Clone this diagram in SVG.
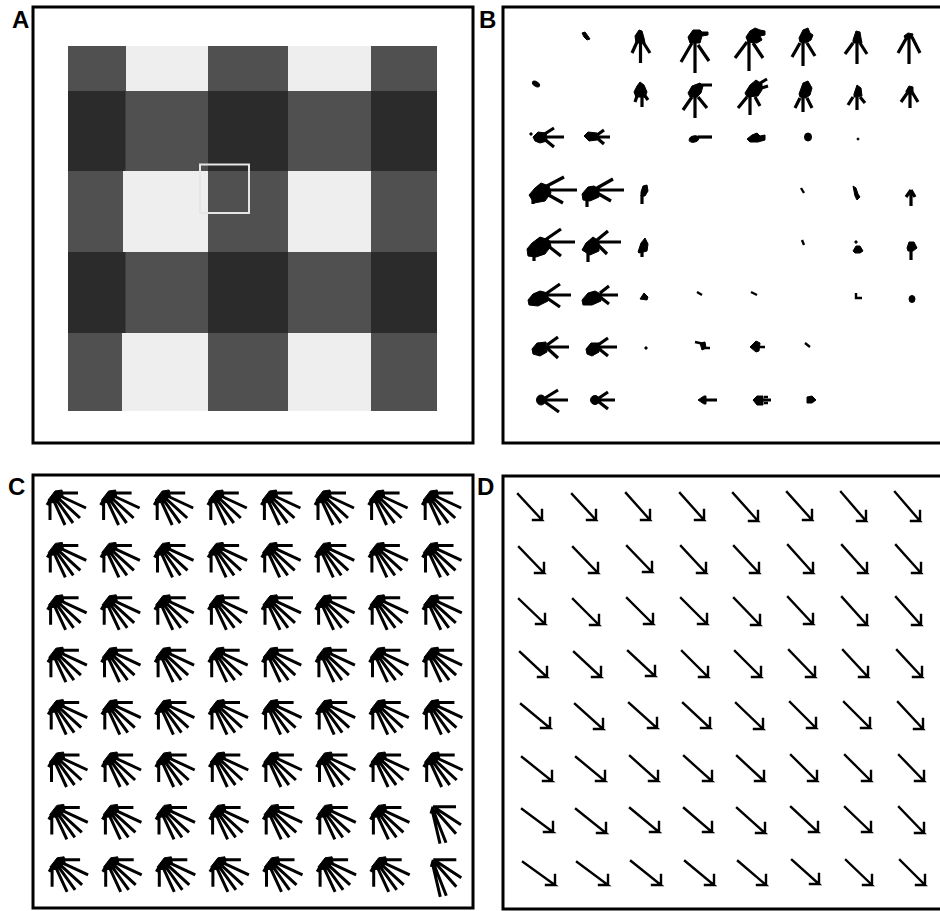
<svg xmlns="http://www.w3.org/2000/svg" xmlns:xlink="http://www.w3.org/1999/xlink" width="940" height="911" viewBox="0 0 940 911">
<style>
.frame{fill:none;stroke:#000;stroke-width:3}
.lbl{font-family:"Liberation Sans",Arial,sans-serif;font-weight:bold;font-size:24px;fill:#000}
.s{fill:none;stroke:#000;stroke-width:3.2;stroke-linecap:butt}
.t{fill:none;stroke:#000;stroke-width:2.4}
.a{fill:none;stroke:#000;stroke-width:2.4;stroke-linecap:square}
.c{fill:none;stroke:#000;stroke-width:3}
.b{fill:#000;stroke:#000;stroke-width:1}
</style>
<defs>
<g id="fan">
<path class="c" d="M6,2 H26 M6,4 L34,17 M5,6 L28,27 M3,7 L21,32 M1,8 L13,34 M-2,9 V29 M-2,9 L-5,14"/>
<polygon class="b" points="-4,9 3,0 10,-1 11,5 5,11 -2,12"/>
</g>
<g id="fan2">
<path class="c" d="M0,0 H23 M2,1 L28,18 M1,2 L23,27 M0,3 L13,36 M-1,3 L7,37 M0,0 L-2,7"/>
</g>
</defs>
<rect x="0" y="0" width="940" height="911" fill="#fff"/>

<g id="panelA">
<rect class="frame" x="33" y="7" width="440" height="436"/>
<rect x="68" y="46" width="369" height="365" fill="#505050"/>
<g fill="#2b2b2b">
<rect x="68" y="91" width="57.5" height="80"/>
<rect x="208" y="91" width="80" height="80"/>
<rect x="371" y="91" width="66" height="80"/>
<rect x="68" y="252" width="57.5" height="81"/>
<rect x="208" y="252" width="80" height="81"/>
<rect x="371" y="252" width="66" height="81"/>
</g>
<g fill="#eeeeee">
<rect x="126" y="46" width="82" height="45"/>
<rect x="288" y="46" width="83" height="45"/>
<rect x="123" y="171" width="85" height="81"/>
<rect x="288" y="171" width="83" height="81"/>
<rect x="122" y="333" width="86" height="78"/>
<rect x="288" y="333" width="83" height="78"/>
</g>
<rect x="200" y="164.5" width="49" height="48.5" fill="none" stroke="#e6e6e6" stroke-width="2"/>
<text class="lbl" x="12" y="28">A</text>
</g>

<g id="panelB">
<rect class="frame" x="503" y="7" width="445" height="436"/>
<text class="lbl" x="479" y="28">B</text>
<g id="B-row0">
<polygon class="b" points="582,33 585,32 588,36 590,39 587,40 584,37"/>
<path class="s" d="M640.5,43 V63 M637,42 L632,53 M643,42 L650,53"/>
<polygon class="b" points="635,36 639,30 642,31 644,38 645,43 636,43"/>
<path class="s" d="M695,40 V73 M692,43 L681,62 M698,45 L709,61"/>
<polygon class="b" points="688,37 693,30 700,30 702,32 708,32 708,35 702,36 700,43 690,43"/>
<path class="s" d="M749,40 V71 M747,42 L735,58 M753,43 L763,58"/>
<polygon class="b" points="746,37 750,31 755,28 760,30 765,31 765,35 760,36 762,40 757,43 748,42"/>
<path class="s" d="M803,42 V66 M800,43 L792,57 M807,43 L815,56"/>
<polygon class="b" points="799,38 803,30 808,28 810,33 813,35 811,40 806,43 800,42"/>
<path class="s" d="M857,43 V64 M853,43 L845,54 M860,43 L867,54"/>
<polygon class="b" points="853,40 856,31 860,32 861,38 862,43 853,43"/>
<path class="s" d="M909,35 V64 M907,37 L898,53 M912,37 L920,53"/>
<polygon class="b" points="904,36 908,33 913,34 912,38 905,38"/>
</g>
<g id="B-row1">
<ellipse class="b" cx="536" cy="84" rx="4" ry="2.2" transform="rotate(35 536 84)"/>
<path class="s" d="M642,95 V107 M638,93 L635,102 M643,93 L648,100"/>
<polygon class="b" points="634,92 637,86 640,82 644,85 647,92 645,97 636,97"/>
<path class="s" d="M695,95 V118 M692,97 L683,110 M698,97 L707,108 M700,85 H712"/>
<polygon class="b" points="688,93 692,86 700,83 703,86 701,93 697,97 690,97"/>
<path class="s" d="M750,95 V115 M747,97 L738,108 M755,97 L760,106 M757,85 L767,79 M758,89 L768,86"/>
<polygon class="b" points="745,93 750,85 756,80 762,84 762,90 758,96 747,97"/>
<path class="s" d="M803,97 V112 M800,98 L795,108 M807,98 L812,108"/>
<polygon class="b" points="799,94 803,83 808,81 812,88 810,95 806,98 800,97"/>
<path class="s" d="M857,97 V110 M853,97 L848,105 M860,97 L865,103"/>
<polygon class="b" points="854,94 857,85 861,88 862,96 854,97"/>
<path class="s" d="M910,90 V108 M908,92 L901,102 M912,92 L918,102"/>
<polygon class="b" points="906,91 909,86 913,87 913,92 906,92"/>
</g>
<g id="B-row2">
<path class="s" d="M543,137 H564 M543,135 L554,128 M543,138 L554,147"/>
<polygon class="b" points="533,137 538,132 546,133 547,141 540,143 535,141"/>
<circle class="b" cx="531" cy="134" r="1.2"/>
<path class="s" d="M595,137 H610 M597,135 L604,130 M597,138 L604,144"/>
<polygon class="b" points="584,136 588,132 597,133 597,140 589,141"/>
<path class="s" d="M698,137 H712"/>
<ellipse class="b" cx="694" cy="139" rx="5" ry="3" transform="rotate(-15 694 139)"/>
<polygon class="b" points="747,139 752,135 757,133 760,136 765,135 765,140 758,142 750,142"/>
<ellipse class="b" cx="808" cy="137" rx="3.5" ry="4"/>
<circle class="b" cx="858" cy="139" r="1"/>
</g>
<g id="B-row3">
<path class="s" d="M543,190 H577 M545,187 L564,177 M545,193 L563,203 M533,193 V204"/>
<polygon class="b" points="529,195 535,188 541,183 549,186 551,193 545,201 534,203"/>
<path class="s" d="M595,190 H624 M597,188 L613,179 M597,193 L611,201 M587,195 V207"/>
<polygon class="b" points="582,194 588,187 594,186 599,189 599,197 590,201 583,200"/>
<path class="s" d="M642,195 V204"/>
<polygon class="b" points="641,192 643,186 647,185 648,191 645,196 641,196"/>
<path class="t" d="M801,188 L804,193"/>
<polygon class="b" points="853,186 856,188 858,194 860,197 857,200 855,196"/>
<path class="s" d="M911,192 V206 M911,190 L906,197 M911,190 L915,197"/>
</g>
<g id="B-row4">
<path class="s" d="M545,242 H575 M545,240 L561,229 M547,245 L561,256 M534,248 V261"/>
<polygon class="b" points="527,249 532,243 540,237 549,240 551,246 545,254 536,257 528,256"/>
<path class="s" d="M597,242 H621 M597,240 L608,231 M598,245 L607,254 M588,247 V262"/>
<polygon class="b" points="582,250 586,243 593,237 599,241 599,251 590,255"/>
<path class="s" d="M642,250 V257"/>
<polygon class="b" points="638,252 641,243 645,238 648,244 647,251 639,253"/>
<path class="t" d="M802,240 L804,245"/>
<polygon class="b" points="853,251 856,246 860,246 863,251 860,253 855,253"/>
<circle class="b" cx="856" cy="242" r="1.2"/>
<path class="s" d="M911,250 V260"/>
<polygon class="b" points="907,248 909,242 914,242 917,248 913,251 908,251"/>
</g>
<g id="B-row5">
<path class="s" d="M545,295 H571 M547,293 L560,284 M547,298 L560,307"/>
<polygon class="b" points="528,300 533,294 540,291 548,293 548,301 538,306 529,305"/>
<path class="s" d="M600,295 H618 M600,293 L609,286 M600,297 L609,304"/>
<polygon class="b" points="582,300 588,293 595,291 601,294 601,301 592,305 583,305"/>
<polygon class="b" points="640,299 644,293 648,297 647,300"/>
<path class="t" d="M697,292 L702,295 M751,292 L757,295 M856,293 V298 H862"/>
<ellipse class="b" cx="912" cy="299" rx="3" ry="3.5"/>
</g>
<g id="B-row6">
<path class="s" d="M545,347 H569 M547,345 L558,337 M547,348 L558,358"/>
<polygon class="b" points="532,349 537,343 546,342 547,352 540,356 533,354"/>
<path class="s" d="M598,347 H617 M598,345 L608,338 M598,348 L608,356"/>
<polygon class="b" points="586,349 591,343 599,343 599,352 592,356 587,354"/>
<circle class="b" cx="646" cy="348" r="1.2"/>
<path class="t" d="M695,342 L704,344 M703,348 H710 M756,347 H765 M805,343 L810,347"/>
<polygon class="b" points="700,343 705,342 706,348 702,350"/>
<polygon class="b" points="750,347 756,341 760,343 759,351 756,352"/>
</g>
<g id="B-row7">
<path class="s" d="M543,400 H568 M545,398 L558,390 M545,402 L559,412"/>
<ellipse class="b" cx="541" cy="400" rx="4.5" ry="5"/>
<path class="s" d="M598,400 H615 M599,398 L608,392 M599,402 L608,409"/>
<ellipse class="b" cx="595" cy="400" rx="4.5" ry="4.5"/>
<path class="s" d="M705,400 H717 M762,400 H771"/>
<polygon class="b" points="698,400 704,396 706,396 706,404 704,404"/>
<path class="t" d="M764,397 L768,397 M764,403 L768,403"/>
<polygon class="b" points="753,400 757,396 763,396 763,405 757,405"/>
<polygon class="b" points="807,397 812,396 816,400 812,403 807,403"/>
</g>
</g>

<g id="panelC">
<rect class="frame" x="33" y="475" width="440" height="433"/>
<text class="lbl" x="8" y="495">C</text>
<g transform="translate(0,491)"><use xlink:href="#fan" x="52"/><use xlink:href="#fan" x="105.6"/><use xlink:href="#fan" x="159.2"/><use xlink:href="#fan" x="212.8"/><use xlink:href="#fan" x="266.4"/><use xlink:href="#fan" x="320"/><use xlink:href="#fan" x="373.6"/><use xlink:href="#fan" x="427.2"/></g>
<g transform="translate(0.3,543.4)"><use xlink:href="#fan" x="52"/><use xlink:href="#fan" x="105.6"/><use xlink:href="#fan" x="159.2"/><use xlink:href="#fan" x="212.8"/><use xlink:href="#fan" x="266.4"/><use xlink:href="#fan" x="320"/><use xlink:href="#fan" x="373.6"/><use xlink:href="#fan" x="427.2"/></g>
<g transform="translate(0.6,595.8)"><use xlink:href="#fan" x="52"/><use xlink:href="#fan" x="105.6"/><use xlink:href="#fan" x="159.2"/><use xlink:href="#fan" x="212.8"/><use xlink:href="#fan" x="266.4"/><use xlink:href="#fan" x="320"/><use xlink:href="#fan" x="373.6"/><use xlink:href="#fan" x="427.2"/></g>
<g transform="translate(0.9,648.2)"><use xlink:href="#fan" x="52"/><use xlink:href="#fan" x="105.6"/><use xlink:href="#fan" x="159.2"/><use xlink:href="#fan" x="212.8"/><use xlink:href="#fan" x="266.4"/><use xlink:href="#fan" x="320"/><use xlink:href="#fan" x="373.6"/><use xlink:href="#fan" x="427.2"/></g>
<g transform="translate(1.2,700.6)"><use xlink:href="#fan" x="52"/><use xlink:href="#fan" x="105.6"/><use xlink:href="#fan" x="159.2"/><use xlink:href="#fan" x="212.8"/><use xlink:href="#fan" x="266.4"/><use xlink:href="#fan" x="320"/><use xlink:href="#fan" x="373.6"/><use xlink:href="#fan" x="427.2"/></g>
<g transform="translate(1.5,753)"><use xlink:href="#fan" x="52"/><use xlink:href="#fan" x="105.6"/><use xlink:href="#fan" x="159.2"/><use xlink:href="#fan" x="212.8"/><use xlink:href="#fan" x="266.4"/><use xlink:href="#fan" x="320"/><use xlink:href="#fan" x="373.6"/><use xlink:href="#fan" x="427.2"/></g>
<g transform="translate(1.8,805.4)"><use xlink:href="#fan" x="52"/><use xlink:href="#fan" x="105.6"/><use xlink:href="#fan" x="159.2"/><use xlink:href="#fan" x="212.8"/><use xlink:href="#fan" x="266.4"/><use xlink:href="#fan" x="320"/><use xlink:href="#fan" x="373.6"/><use xlink:href="#fan2" x="431.2" y="1.3"/></g>
<g transform="translate(2.1,857.8)"><use xlink:href="#fan" x="52"/><use xlink:href="#fan" x="105.6"/><use xlink:href="#fan" x="159.2"/><use xlink:href="#fan" x="212.8"/><use xlink:href="#fan" x="266.4"/><use xlink:href="#fan" x="320"/><use xlink:href="#fan" x="373.6"/><use xlink:href="#fan2" x="431.2" y="2"/></g>
</g>

<g id="panelD">
<rect class="frame" x="503" y="476" width="445" height="433"/>
<text class="lbl" x="477" y="495">D</text>
<path class="a" d="M518,494 l24,26 h-9 m9,0 v-10 M572,494 l24,26 h-9 m9,0 v-10 M626,493 l24,27 h-9 m9,0 v-10 M680,493 l24,27 h-9 m9,0 v-10 M733,493 l25,28 h-9 m9,0 v-10 M787,492 l25,28 h-9 m9,0 v-10 M841,492 l25,29 h-9 m9,0 v-10 M895,492 l25,29 h-9 m9,0 v-10"/>
<path class="a" d="M519,547 l25,26 h-9 m9,0 v-10 M573,547 l25,26 h-9 m9,0 v-10 M627,546 l25,26 h-9 m9,0 v-10 M681,546 l25,27 h-9 m9,0 v-10 M734,546 l25,27 h-9 m9,0 v-10 M788,545 l25,28 h-9 m9,0 v-10 M842,545 l25,28 h-9 m9,0 v-10 M896,545 l25,28 h-9 m9,0 v-10"/>
<path class="a" d="M519,599 l26,25 h-9 m9,0 v-10 M573,599 l26,26 h-9 m9,0 v-10 M627,598 l26,26 h-9 m9,0 v-10 M681,598 l26,26 h-9 m9,0 v-10 M734,598 l26,27 h-9 m9,0 v-10 M788,597 l25,27 h-9 m9,0 v-10 M842,597 l25,28 h-9 m9,0 v-10 M896,597 l25,28 h-9 m9,0 v-10"/>
<path class="a" d="M520,652 l27,25 h-9 m9,0 v-10 M574,652 l27,25 h-9 m9,0 v-10 M628,651 l27,25 h-9 m9,0 v-10 M682,651 l26,26 h-9 m9,0 v-10 M735,651 l26,26 h-9 m9,0 v-10 M789,650 l26,27 h-9 m9,0 v-10 M843,650 l25,27 h-9 m9,0 v-10 M897,650 l25,27 h-9 m9,0 v-10"/>
<path class="a" d="M521,704 l29,24 h-9 m9,0 v-10 M575,704 l28,25 h-9 m9,0 v-10 M629,703 l28,25 h-9 m9,0 v-10 M683,703 l27,25 h-9 m9,0 v-10 M736,703 l27,26 h-9 m9,0 v-10 M790,702 l26,26 h-9 m9,0 v-10 M844,702 l26,26 h-9 m9,0 v-10 M898,702 l25,27 h-9 m9,0 v-10"/>
<path class="a" d="M522,757 l30,24 h-9 m9,0 v-10 M576,757 l29,24 h-9 m9,0 v-10 M630,756 l28,25 h-9 m9,0 v-10 M684,756 l28,25 h-9 m9,0 v-10 M737,756 l27,25 h-9 m9,0 v-10 M791,755 l26,26 h-9 m9,0 v-10 M845,755 l26,26 h-9 m9,0 v-10 M899,755 l25,26 h-9 m9,0 v-10"/>
<path class="a" d="M522,809 l31,23 h-9 m9,0 v-10 M576,809 l30,24 h-9 m9,0 v-10 M630,808 l29,24 h-9 m9,0 v-10 M684,808 l28,24 h-9 m9,0 v-10 M737,808 l28,25 h-9 m9,0 v-10 M791,807 l27,25 h-9 m9,0 v-10 M845,807 l26,25 h-9 m9,0 v-10 M899,807 l25,26 h-9 m9,0 v-10"/>
<path class="a" d="M523,862 l32,23 h-9 m9,0 v-10 M577,862 l31,23 h-9 m9,0 v-10 M631,861 l30,24 h-9 m9,0 v-10 M685,861 l29,24 h-9 m9,0 v-10 M738,861 l28,24 h-9 m9,0 v-10 M792,860 l27,24 h-9 m9,0 v-10 M846,860 l26,25 h-9 m9,0 v-10 M900,860 l25,25 h-9 m9,0 v-10"/>
</g>
</svg>
